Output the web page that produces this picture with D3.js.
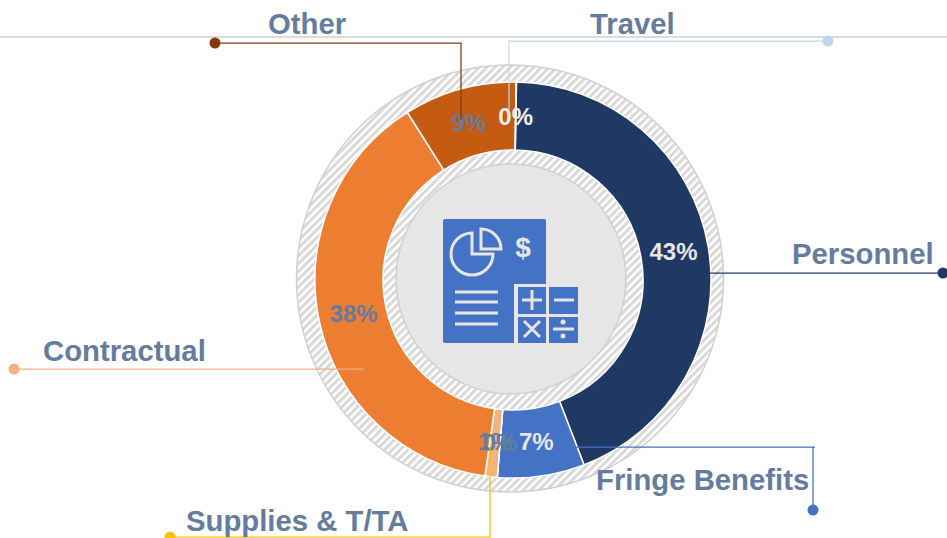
<!DOCTYPE html>
<html>
<head>
<meta charset="utf-8">
<script src="https://cdn.jsdelivr.net/npm/d3@7"></script>
<style>
    html, body { margin: 0; padding: 0; background: #fff; overflow: hidden; }
    text { font-family: "Liberation Sans", Arial, sans-serif; font-weight: bold; }
</style>
</head>
<body>
<div id="chart"></div>
<script>
// values
// the unnamed slice has no leader, only its 0% label shows under the 1%
var categories = ["Personnel", "Fringe Benefits", "Unnamed", "Supplies & T/TA", "Contractual", "Other", "Travel"];
var shares = [43.9, 7.1, 0, 1.0, 38.8, 9.2, 0.03];
var shareLabels = ["43%", "7%", "0%", "1%", "38%", "9%", "0%"];

var width = 947, height = 538;
var cx = 513, cy = 280;
var textColor = "#657c9e";

var sliceColor = d3.scaleOrdinal()
    .domain(categories)
    .range(["#1f3864", "#4472c4", "#a5a5a5", "#f4b183", "#ed7d31", "#c55a11", "#bdd7ee"]);

var valueColor = d3.scaleOrdinal()
    .domain(categories)
    .range(["#e6e6e6", "#e6e6e6", textColor, textColor, textColor, textColor, "#eeeeee"]);

// leader line for each slice, page coordinates: dot first, then the bends
var leaders = {
    "Personnel": {color: "#1f3864", path: [[943, 273], [710, 273]]},
    "Fringe Benefits": {color: "#4472c4", path: [[813, 510], [813, 447], [815, 447], [567, 447]]},
    "Supplies & T/TA": {color: "#ffc000", path: [[170, 537], [490, 537], [490, 447]]},
    "Contractual": {color: "#f4b183", path: [[14, 369], [364, 369]]},
    "Other": {color: "#843c0c", path: [[215, 43], [461, 43], [461, 120]]},
    "Travel": {color: "#bdd7ee", path: [[828, 41], [509, 41], [509, 110]]}
};

var labelPos = {
    "Personnel": [792, 264],
    "Fringe Benefits": [596, 490],
    "Supplies & T/TA": [186, 531],
    "Contractual": [43, 361],
    "Other": [268, 34],
    "Travel": [590, 34]
};

var svg = d3.select("#chart").append("svg")
    .attr("width", width)
    .attr("height", height)
    .style("display", "block");

// hatch used by the ring behind the donut
var hatch = svg.append("defs").append("pattern")
    .attr("id", "hatch")
    .attr("width", 5.5)
    .attr("height", 5.5)
    .attr("patternUnits", "userSpaceOnUse")
    .attr("patternTransform", "rotate(-45)");
hatch.append("rect").attr("width", 5.5).attr("height", 5.5).attr("fill", "#fff");
hatch.append("rect").attr("width", 5.5).attr("height", 3).attr("fill", "#d9d9d9");

// line across the top
svg.append("line")
    .attr("x1", 0).attr("x2", width)
    .attr("y1", 37).attr("y2", 37)
    .attr("stroke", "#d0d0d0")
    .attr("stroke-width", 1.5);

// backing ring and the grey middle sit a little off the donut centre
svg.append("circle")
    .attr("cx", 510).attr("cy", 278.5)
    .attr("r", 213.5)
    .attr("fill", "url(#hatch)")
    .attr("stroke", "#d0d0d0")
    .attr("stroke-width", 1.5);

svg.append("circle")
    .attr("cx", 511).attr("cy", 279)
    .attr("r", 115)
    .attr("fill", "#e6e6e6")
    .attr("stroke", "#d0d0d0")
    .attr("stroke-width", 1.5);

var donut = svg.append("g")
    .attr("transform", "translate(" + cx + "," + cy + ")");

var pie = d3.pie()
    .sort(null)
    .startAngle(1 * Math.PI / 180)
    .endAngle(361 * Math.PI / 180)
    .value(function(d, i) { return shares[i]; });

var arc = d3.arc().innerRadius(130).outerRadius(198);
var labelArc = d3.arc().innerRadius(163).outerRadius(163);

var arcs = pie(categories);

donut.selectAll("path.slice")
    .data(arcs)
    .enter()
    .append("path")
    .attr("class", "slice")
    .attr("d", arc)
    .attr("fill", function(d) { return sliceColor(d.data); })
    .attr("stroke", "#fff")
    .attr("stroke-width", 1.5);

// leaders go over the slices
var line = d3.line();
Object.keys(leaders).forEach(function(name) {
    var l = leaders[name];
    svg.append("path")
        .attr("d", line(l.path))
        .attr("fill", "none")
        .attr("stroke", l.color)
        .attr("stroke-width", 1.25);
    svg.append("circle")
        .attr("cx", l.path[0][0])
        .attr("cy", l.path[0][1])
        .attr("r", 5.5)
        .attr("fill", l.color);
});

// percent labels
donut.selectAll("text.share")
    .data(arcs)
    .enter()
    .append("text")
    .attr("class", "share")
    .attr("x", function(d) { return labelArc.centroid(d)[0]; })
    .attr("y", function(d) { return labelArc.centroid(d)[1]; })
    .attr("dy", "0.35em")
    .attr("text-anchor", "middle")
    .attr("font-size", 24)
    .attr("fill", function(d) { return valueColor(d.data); })
    .text(function(d) { return shareLabels[d.index]; });

// category labels
svg.selectAll("text.category")
    .data(categories.filter(function(d) { return labelPos[d]; }))
    .enter()
    .append("text")
    .attr("class", "category")
    .attr("x", function(d) { return labelPos[d][0]; })
    .attr("y", function(d) { return labelPos[d][1]; })
    .attr("font-size", 29.3)
    .attr("fill", textColor)
    .text(function(d) { return d; });

// budget icon in the middle
var icon = svg.append("g")
    .attr("fill", "none")
    .attr("stroke", "#e6e6e6")
    .attr("stroke-width", 3);

icon.append("rect")
    .attr("x", 443).attr("y", 219)
    .attr("width", 103).attr("height", 124)
    .attr("rx", 2)
    .attr("fill", "#4472c4")
    .attr("stroke", "none");

var wedge = d3.arc().innerRadius(0);
icon.append("path")
    .attr("transform", "translate(472,254) rotate(90)")
    .attr("d", wedge({outerRadius: 21, startAngle: 0, endAngle: 1.5 * Math.PI}));
icon.append("path")
    .attr("transform", "translate(481,249)")
    .attr("d", wedge({outerRadius: 20, startAngle: 0, endAngle: Math.PI / 2}));

icon.append("text")
    .attr("x", 523).attr("y", 257)
    .attr("text-anchor", "middle")
    .attr("font-size", 28)
    .attr("fill", "#e6e6e6")
    .attr("stroke", "none")
    .text("$");

icon.selectAll("line.row")
    .data([292, 302, 313, 324])
    .enter()
    .append("line")
    .attr("class", "row")
    .attr("x1", 455).attr("x2", 498)
    .attr("y1", function(d) { return d; })
    .attr("y2", function(d) { return d; });

// calculator
icon.append("rect")
    .attr("x", 514).attr("y", 284)
    .attr("width", 67).attr("height", 62)
    .attr("fill", "#e6e6e6")
    .attr("stroke", "none");

var keys = [[518, 287, 28, 27], [549, 287, 29, 27], [518, 317, 28, 26], [549, 317, 29, 26]];
icon.selectAll("rect.key")
    .data(keys)
    .enter()
    .append("rect")
    .attr("class", "key")
    .attr("x", function(d) { return d[0]; })
    .attr("y", function(d) { return d[1]; })
    .attr("width", function(d) { return d[2]; })
    .attr("height", function(d) { return d[3]; })
    .attr("fill", "#4472c4")
    .attr("stroke", "none");

icon.append("path").attr("d", "M522,300H542M532,290V310");
icon.append("path").attr("d", "M554,300H574");
icon.append("path").attr("d", "M524,321L540,337M540,321L524,337");
icon.append("path").attr("d", "M553,329H574");
icon.append("circle").attr("cx", 563).attr("cy", 322).attr("r", 2.5).attr("fill", "#e6e6e6").attr("stroke", "none");
icon.append("circle").attr("cx", 563).attr("cy", 336).attr("r", 2.5).attr("fill", "#e6e6e6").attr("stroke", "none");
</script>
</body>
</html>
